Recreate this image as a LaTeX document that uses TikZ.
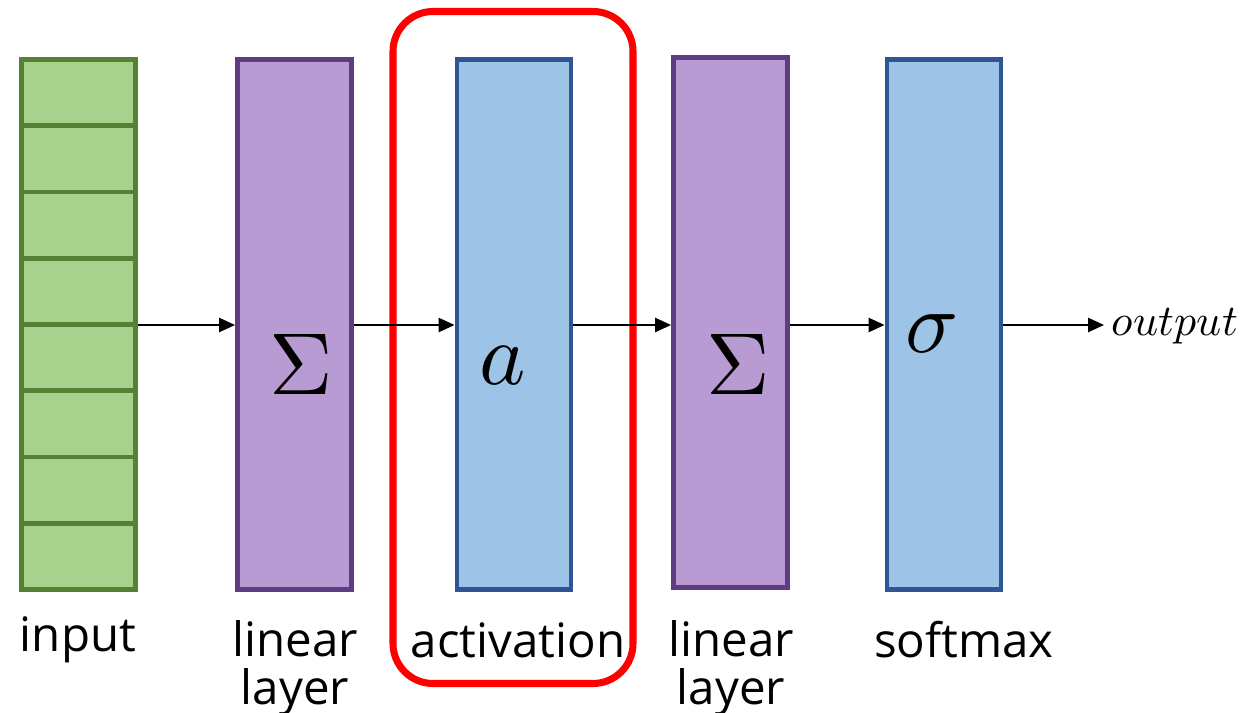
\documentclass[tikz,border=0pt]{standalone}
\usepackage{fontspec}
\usepackage{unicode-math}
\setmainfont{Open Sans}
\setmathfont{Latin Modern Math}
\usetikzlibrary{arrows.meta,calc}

\definecolor{ingreen}{RGB}{169,209,142}
\definecolor{ingreenD}{RGB}{84,130,53}
\definecolor{linpurple}{RGB}{185,155,212}
\definecolor{linpurpleD}{RGB}{96,60,130}
\definecolor{actblue}{RGB}{157,195,230}
\definecolor{actblueD}{RGB}{47,85,151}
\definecolor{hlred}{RGB}{255,0,0}

\newlength{\unitpx}
\setlength{\unitpx}{0.02cm}

\tikzset{
  layerbox/.style={rectangle, inner sep=0pt, line width=2.8pt,
    minimum width=114\unitpx, minimum height=530\unitpx},
  cellbox/.style={rectangle, inner sep=0pt, line width=2.8pt,
    draw=ingreenD, fill=ingreen, minimum width=114\unitpx, minimum height=66.25\unitpx},
  linbox/.style={layerbox, draw=linpurpleD, fill=linpurple},
  actbox/.style={layerbox, draw=actblueD, fill=actblue},
  flow/.style={line width=1.1pt, -{Triangle[length=9pt,width=8pt]}},
  caption/.style={font=\fontsize{27}{27}\selectfont, align=center, inner sep=0pt},
  bigsym/.style={font=\fontsize{50}{50}\selectfont, inner sep=0pt},
}

\begin{document}
\begin{tikzpicture}[x=0.02cm, y=-0.02cm]
  \useasboundingbox (0,0) rectangle (1245,713);

  % highlight frame around the activation stage
  \node[draw=hlred, line width=4pt, rounded corners=0.8cm, minimum width=240\unitpx,
        minimum height=672\unitpx, inner sep=0pt] (frame) at (513,347.5) {};

  % input vector: eight stacked cells
  \foreach \i in {0,...,7} {
    \node[cellbox] (cell\i) at (78.5, {92.6+66.25*\i}) {};
  }
  \node[layerbox] (input) at (78.5,324.5) {};

  % layers
  \node[linbox] (lin1) at (294.5,324.5) {};
  \node[actbox] (act) at (514,324.5) {};
  \node[linbox] (lin2) at (730.5,322.5) {};
  \node[actbox] (soft) at (944,324.5) {};

  % symbols inside the layers
  \node[bigsym] (sym1) at (301,364) {$\Sigma$};
  \node[bigsym] (sym2) at (503,366) {$a$};
  \node[bigsym] (sym3) at (738,364) {$\Sigma$};
  \node[bigsym] (sym4) at (932,334) {$\sigma$};

  % output label
  \coordinate (outend) at (1104,325);
  \node[anchor=west, inner sep=0pt, font=\fontsize{25}{25}\selectfont] (out) at (1111,326) {$output$};

  % connectors
  \draw[flow] (input.east |- 0,325) -- (lin1.west |- 0,325);
  \draw[flow] (lin1.east |- 0,325) -- (act.west |- 0,325);
  \draw[flow] (act.east |- 0,325) -- (lin2.west |- 0,325);
  \draw[flow] (lin2.east |- 0,325) -- (soft.west |- 0,325);
  \draw[flow] (soft.east |- 0,325) -- (outend);

  % captions
  \node[caption] (capin) at (78,640) {input};
  \node[caption] (caplin1) at (295,668) {linear\\layer};
  \node[caption] (capact) at (518,640) {activation};
  \node[caption] (caplin2) at (731,668) {linear\\layer};
  \node[caption] (capsoft) at (964,640) {softmax};
\end{tikzpicture}
\end{document}
